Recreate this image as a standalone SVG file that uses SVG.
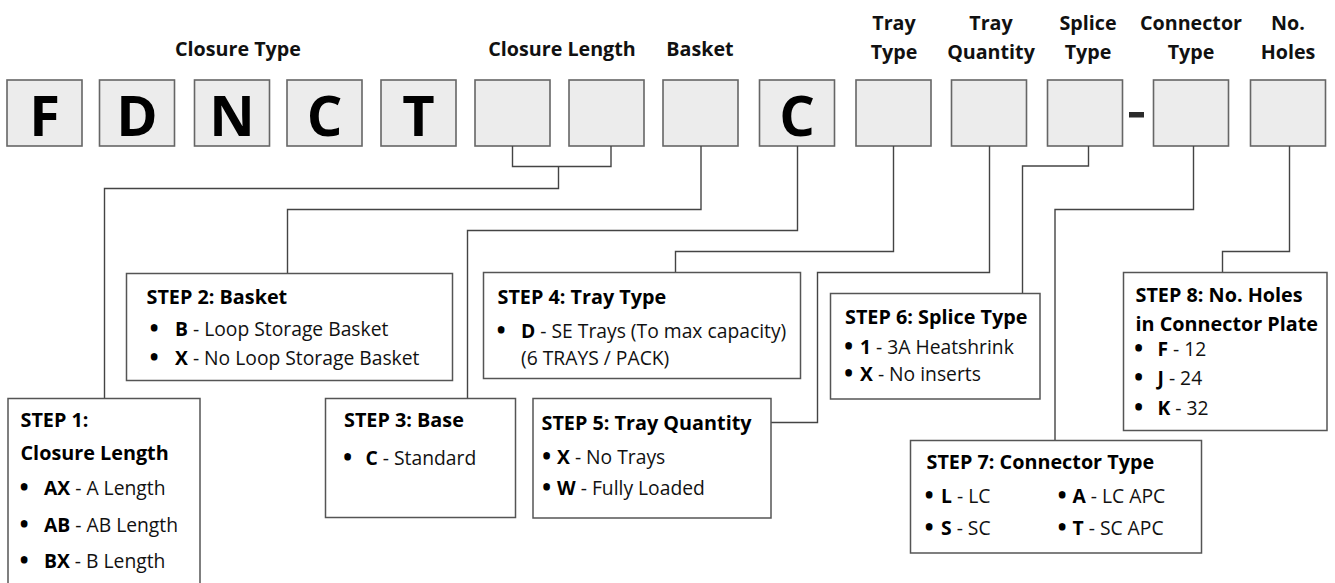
<svg xmlns="http://www.w3.org/2000/svg" width="1335" height="583" viewBox="0 0 1335 583">
<style>
.cell{fill:#ececec;stroke:#666;stroke-width:1.6}
.big{font-family:"Open Sans","Liberation Sans",sans-serif;font-weight:700;font-size:56px;fill:#000;text-anchor:middle}
.hd{font-family:"Open Sans","Liberation Sans",sans-serif;font-weight:700;font-size:19.7px;fill:#111;text-anchor:middle}
.box{fill:#fff;stroke:#555;stroke-width:1.5}
.t{font-family:"Open Sans","Liberation Sans",sans-serif;font-weight:700;font-size:19.8px;fill:#000}
.i{font-family:"Open Sans","Liberation Sans",sans-serif;font-size:19.3px;fill:#111}
.b{font-weight:700;fill:#000}
.bl{font-family:"Open Sans","Liberation Sans",sans-serif;font-weight:800;font-size:21px;fill:#000;text-anchor:middle}
.ln{fill:none;stroke:#444;stroke-width:1.4}
</style>
<rect width="1335" height="583" fill="#fff"/>
<g id="headers">
<text class="hd" x="238" y="56">Closure Type</text>
<text class="hd" x="562" y="56">Closure Length</text>
<text class="hd" x="700" y="56">Basket</text>
<text class="hd" x="894" y="30">Tray</text><text class="hd" x="894" y="59">Type</text>
<text class="hd" x="991" y="30">Tray</text><text class="hd" x="991" y="59">Quantity</text>
<text class="hd" x="1088" y="30">Splice</text><text class="hd" x="1088" y="59">Type</text>
<text class="hd" x="1191" y="30">Connector</text><text class="hd" x="1191" y="59">Type</text>
<text class="hd" x="1288" y="30">No.</text><text class="hd" x="1288" y="59">Holes</text>
</g>
<g id="code-cells">
<g id="cell-F"><rect class="cell" x="7" y="80" width="75" height="66"/><text class="big" x="44.5" y="136">F</text></g>
<g id="cell-D"><rect class="cell" x="99.5" y="80" width="75" height="66"/><text class="big" x="137" y="136">D</text></g>
<g id="cell-N"><rect class="cell" x="194.5" y="80" width="75" height="66"/><text class="big" x="232" y="136">N</text></g>
<g id="cell-C1"><rect class="cell" x="287" y="80" width="75" height="66"/><text class="big" x="324.5" y="136">C</text></g>
<g id="cell-T"><rect class="cell" x="381" y="80" width="75" height="66"/><text class="big" x="418.5" y="136">T</text></g>
<g id="cell-len1"><rect class="cell" x="475" y="80" width="75" height="66"/></g>
<g id="cell-len2"><rect class="cell" x="569" y="80" width="75" height="66"/></g>
<g id="cell-basket"><rect class="cell" x="663" y="80" width="75" height="66"/></g>
<g id="cell-C2"><rect class="cell" x="759.5" y="80" width="75" height="66"/><text class="big" x="797" y="136">C</text></g>
<g id="cell-traytype"><rect class="cell" x="856" y="80" width="75" height="66"/></g>
<g id="cell-trayqty"><rect class="cell" x="951.5" y="80" width="75" height="66"/></g>
<g id="cell-splice"><rect class="cell" x="1047.5" y="80" width="75" height="66"/></g>
<rect x="1129" y="112" width="15" height="5.5" fill="#2b2b2b"/>
<g id="cell-connector"><rect class="cell" x="1153.5" y="80" width="75" height="66"/></g>
<g id="cell-holes"><rect class="cell" x="1250.5" y="80" width="75" height="66"/></g>
</g>
<g id="connectors">
<path class="ln" d="M512.5 146V166.5H611V146"/>
<path class="ln" d="M558.5 166.5V188.5H104.5V398"/>
<path class="ln" d="M701 146V209.5H287.5V273"/>
<path class="ln" d="M797.5 146V230.5H467.5V398"/>
<path class="ln" d="M893.5 146V251.5H675.5V272.5"/>
<path class="ln" d="M989.5 146V272.5H817.5V422.5H771"/>
<path class="ln" d="M1088.5 146V166H1022.5V293"/>
<path class="ln" d="M1193.5 146V209.5H1055V440"/>
<path class="ln" d="M1289.5 146V251.5H1222.5V272.5"/>
</g>
<g id="step1">
<rect class="box" x="8" y="398.5" width="192" height="200"/>
<text class="t" x="20.5" y="427">STEP 1:</text>
<text class="t" x="20.5" y="460">Closure Length</text>
<text class="bl" x="24" y="494.5">•</text><text class="i" x="44" y="494.5"><tspan class="b">AX</tspan> - A Length</text>
<text class="bl" x="24" y="531.5">•</text><text class="i" x="44" y="531.5"><tspan class="b">AB</tspan> - AB Length</text>
<text class="bl" x="24" y="568">•</text><text class="i" x="44" y="568"><tspan class="b">BX</tspan> - B Length</text>
</g>
<g id="step2">
<rect class="box" x="126.5" y="273.5" width="326" height="107"/>
<text class="t" x="146.5" y="304">STEP 2: Basket</text>
<text class="bl" x="154" y="335.5">•</text><text class="i" x="175" y="335.5"><tspan class="b">B</tspan> - Loop Storage Basket</text>
<text class="bl" x="154" y="364.5">•</text><text class="i" x="175" y="364.5"><tspan class="b">X</tspan> - No Loop Storage Basket</text>
</g>
<g id="step3">
<rect class="box" x="325.5" y="398.5" width="190" height="119"/>
<text class="t" x="344" y="427">STEP 3: Base</text>
<text class="bl" x="347.5" y="464.5">•</text><text class="i" x="365.5" y="464.5"><tspan class="b">C</tspan> - Standard</text>
</g>
<g id="step4">
<rect class="box" x="483.5" y="272.5" width="317" height="106"/>
<text class="t" x="497.5" y="304">STEP 4: Tray Type</text>
<text class="bl" x="501" y="337.5">•</text><text class="i" x="521" y="337.5"><tspan class="b">D</tspan> - SE Trays (To max capacity)</text>
<text class="i" x="521" y="364.5">(6 TRAYS / PACK)</text>
</g>
<g id="step5">
<rect class="box" x="533" y="398.5" width="238" height="119.5"/>
<text class="t" x="541.5" y="429.5">STEP 5: Tray Quantity</text>
<text class="bl" x="546.5" y="463.5">•</text><text class="i" x="557" y="463.5"><tspan class="b">X</tspan> - No Trays</text>
<text class="bl" x="546.5" y="495">•</text><text class="i" x="557" y="495"><tspan class="b">W</tspan> - Fully Loaded</text>
</g>
<g id="step6">
<rect class="box" x="830.5" y="293.5" width="209.5" height="105.5"/>
<text class="t" x="845" y="323.5">STEP 6: Splice Type</text>
<text class="bl" x="848.5" y="353.5">•</text><text class="i" x="860" y="353.5"><tspan class="b">1</tspan> - 3A Heatshrink</text>
<text class="bl" x="848.5" y="381">•</text><text class="i" x="860" y="381"><tspan class="b">X</tspan> - No inserts</text>
</g>
<g id="step7">
<rect class="box" x="910.5" y="440.5" width="291" height="112.5"/>
<text class="t" x="926.5" y="468.5">STEP 7: Connector Type</text>
<text class="bl" x="929" y="502.5">•</text><text class="i" x="941" y="502.5"><tspan class="b">L</tspan> - LC</text>
<text class="bl" x="1062" y="502.5">•</text><text class="i" x="1072.5" y="502.5"><tspan class="b">A</tspan> - LC APC</text>
<text class="bl" x="929" y="535">•</text><text class="i" x="941" y="535"><tspan class="b">S</tspan> - SC</text>
<text class="bl" x="1062" y="535">•</text><text class="i" x="1072.5" y="535"><tspan class="b">T</tspan> - SC APC</text>
</g>
<g id="step8">
<rect class="box" x="1123.5" y="272.5" width="203.5" height="158"/>
<text class="t" x="1135.5" y="302">STEP 8: No. Holes</text>
<text class="t" x="1135.5" y="330.5">in Connector Plate</text>
<text class="bl" x="1138.5" y="356">•</text><text class="i" x="1157.5" y="356"><tspan class="b">F</tspan> - 12</text>
<text class="bl" x="1138.5" y="385">•</text><text class="i" x="1157.5" y="385"><tspan class="b">J</tspan> -  24</text>
<text class="bl" x="1138.5" y="415">•</text><text class="i" x="1157.5" y="415"><tspan class="b">K</tspan> - 32</text>
</g>
</svg>
